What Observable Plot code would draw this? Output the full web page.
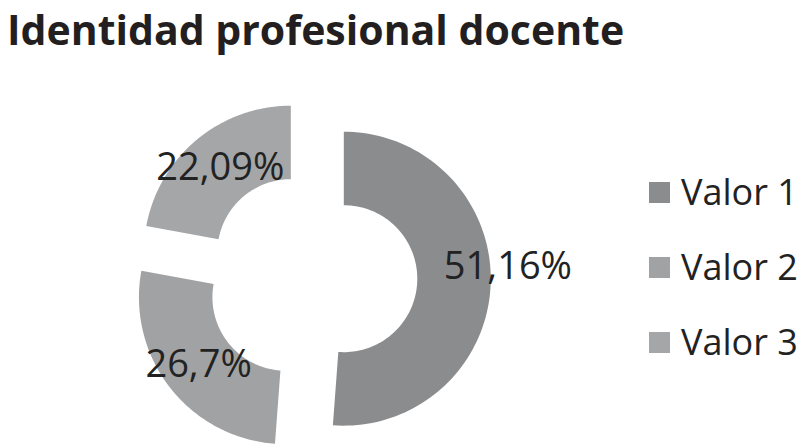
<!DOCTYPE html>
<html>
<head>
<meta charset="utf-8">
<script src="https://cdn.jsdelivr.net/npm/d3@7"></script>
<script src="https://cdn.jsdelivr.net/npm/@observablehq/plot@0.6"></script>
<style>
  body { margin: 0; background: #fff; }
  #wrap { position: relative; width: 808px; height: 448px; overflow: hidden; font-family: "Open Sans", sans-serif; color: #222; }
  #title { position: absolute; left: 7px; top: 5px; font-weight: 700; font-size: 41px; line-height: 48px; color: #231f20; white-space: nowrap; }
  #chart { position: absolute; left: 0; top: 60px; }
  .row { position: absolute; left: 649px; height: 40px; font-size: 36px; line-height: 40px; white-space: nowrap; color: #222; }
  .sw { position: absolute; left: 0; top: 10px; width: 21px; height: 21px; }
  .lab { position: absolute; left: 32px; top: 0; }
</style>
</head>
<body>
<div id="wrap">
  <div id="title">Identidad profesional docente</div>
  <div id="chart"></div>
  <div id="legend"></div>
</div>
<script>
const categories = ["Valor 1", "Valor 2", "Valor 3"];
const values = [51.16, 26.7, 22.09];
const labels = ["51,16%", "26,7%", "22,09%"];
const colors = ["#8b8c8e", "#a1a2a4", "#a5a6a8"];

const innerRatio = 0.5;
const explode = 0.22;

const rows = categories.map((c, i) => ({category: c, value: values[i], label: labels[i], color: colors[i]}));
const arcs = d3.pie().sort(null).value(d => d.value)(rows);

const features = arcs.map(a => {
  const mid = (a.startAngle + a.endAngle) / 2;
  const ox = explode * Math.sin(mid), oy = explode * Math.cos(mid);
  const n = 96;
  const ring = [];
  for (let k = 0; k <= n; k++) {
    const t = a.startAngle + (a.endAngle - a.startAngle) * k / n;
    ring.push([ox + Math.sin(t), oy + Math.cos(t)]);
  }
  for (let k = n; k >= 0; k--) {
    const t = a.startAngle + (a.endAngle - a.startAngle) * k / n;
    ring.push([ox + innerRatio * Math.sin(t), oy + innerRatio * Math.cos(t)]);
  }
  ring.push(ring[0]);
  return {type: "Feature", properties: {category: a.data.category, color: a.data.color}, geometry: {type: "Polygon", coordinates: [ring]}};
});

const labelRows = arcs.map((a, i) => {
  const mid = (a.startAngle + a.endAngle) / 2;
  const r = explode + (1 + innerRatio) / 2;
  return {label: a.data.label, lx: r * Math.sin(mid), ly: r * Math.cos(mid), first: i === 0};
});

const outline = {type: "Polygon", coordinates: [[[-1.25, -1.15], [1.25, -1.15], [1.25, 1.15], [-1.25, 1.15], [-1.25, -1.15]]]};

const chart = Plot.plot({
  width: 808,
  height: 388,
  marginLeft: 127,
  marginRight: 313,
  marginTop: 48,
  marginBottom: 2,
  projection: {type: () => d3.geoIdentity().reflectY(true), domain: outline, clip: false},
  style: {fontFamily: "Open Sans, sans-serif", background: "transparent", overflow: "visible"},
  marks: [
    Plot.geo(features, {fill: d => d.properties.color, stroke: "none"}),
    Plot.text(labelRows.filter(d => !d.first), {x: "lx", y: "ly", text: "label", fontSize: 38, fill: "#222"}),
    Plot.text(labelRows.filter(d => d.first), {x: "lx", y: "ly", text: "label", fontSize: 38, fill: "#222", dx: 54, dy: -16})
  ]
});
document.getElementById("chart").appendChild(chart);

const legend = document.getElementById("legend");
categories.forEach((c, i) => {
  const row = document.createElement("div");
  row.className = "row";
  row.style.top = (172 + i * 75) + "px";
  row.innerHTML = `<span class="sw" style="background:${colors[i]}"></span><span class="lab">${c}</span>`;
  legend.appendChild(row);
});
</script>
</body>
</html>
